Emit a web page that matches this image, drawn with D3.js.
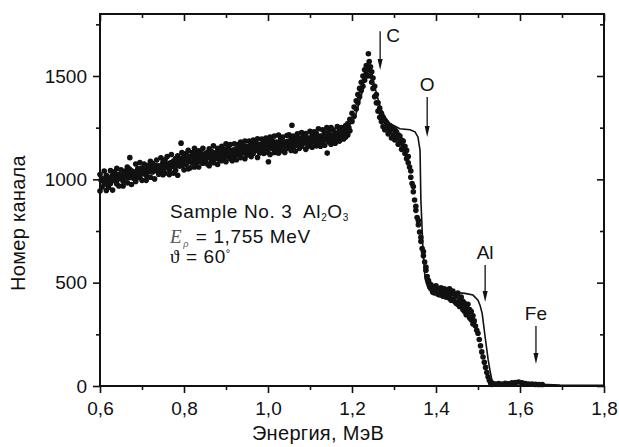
<!DOCTYPE html>
<html lang="ru">
<head>
<meta charset="UTF-8">
<title>Al2O3 spectrum</title>
<style>
  body { margin: 0; background: #fff; }
  svg text { font-family: "Liberation Sans", Arial, sans-serif; fill: #111; }
</style>
</head>
<body>
<svg width="619" height="447"></svg>
<script src="https://d3js.org/d3.v7.min.js"></script>
<script>
// measured points [energy MeV, counts]
var measured = [
  [0.600,1023],[0.600,943],[0.605,1000],[0.605,963],[0.610,1040],[0.610,982],[0.615,946],[0.615,1020],
  [0.620,1000],[0.620,962],[0.625,1042],[0.625,980],[0.630,1020],[0.630,948],[0.635,1036],[0.635,1000],
  [0.640,1053],[0.640,977],[0.645,968],[0.645,1023],[0.650,1012],[0.650,1046],[0.655,991],[0.655,968],
  [0.660,1040],[0.660,1025],[0.665,983],[0.665,1060],[0.670,1008],[0.670,1050],[0.671,1105],[0.675,975],
  [0.675,1041],[0.680,1030],[0.680,1005],[0.685,1074],[0.685,990],[0.690,1052],[0.690,1008],[0.695,1081],
  [0.695,1013],[0.700,1055],[0.700,995],[0.705,1040],[0.705,1074],[0.710,1018],[0.710,995],[0.715,1068],
  [0.715,1053],[0.720,1010],[0.720,1087],[0.725,1036],[0.725,1078],[0.730,1002],[0.730,1068],[0.735,1048],
  [0.735,1093],[0.740,1025],[0.740,1063],[0.745,1038],[0.745,1104],[0.750,1022],[0.750,1082],[0.755,1095],
  [0.755,1030],[0.760,1068],[0.760,1110],[0.765,1023],[0.765,1048],[0.770,1120],[0.770,1062],[0.775,1030],
  [0.775,1088],[0.780,1101],[0.780,1044],[0.785,1020],[0.785,1114],[0.790,1064],[0.790,1100],[0.793,1175],
  [0.795,1129],[0.795,1067],[0.800,1046],[0.800,1110],[0.805,1125],[0.805,1072],[0.810,1050],[0.810,1140],
  [0.815,1112],[0.815,1056],[0.820,1080],[0.820,1130],[0.825,1150],[0.825,1060],[0.830,1082],[0.830,1128],
  [0.835,1060],[0.835,1138],[0.840,1126],[0.840,1085],[0.845,1150],[0.845,1078],[0.850,1092],[0.850,1124],
  [0.855,1130],[0.855,1075],[0.860,1066],[0.860,1148],[0.865,1089],[0.865,1136],[0.870,1162],[0.870,1080],
  [0.875,1100],[0.875,1128],[0.880,1072],[0.880,1150],[0.885,1140],[0.885,1094],[0.890,1160],[0.890,1090],
  [0.895,1098],[0.895,1146],[0.900,1172],[0.900,1085],[0.905,1110],[0.905,1154],[0.910,1168],[0.910,1100],
  [0.915,1090],[0.915,1140],[0.920,1172],[0.920,1110],[0.925,1148],[0.925,1095],[0.930,1120],[0.930,1170],
  [0.935,1180],[0.935,1105],[0.940,1128],[0.940,1162],[0.945,1100],[0.945,1185],[0.950,1160],[0.950,1118],
  [0.955,1185],[0.955,1130],[0.960,1110],[0.960,1170],[0.965,1190],[0.965,1125],[0.970,1140],[0.970,1178],
  [0.975,1106],[0.975,1196],[0.980,1170],[0.980,1128],[0.985,1195],[0.985,1140],[0.990,1125],[0.990,1180],
  [0.995,1200],[0.995,1150],[1.000,1130],[1.000,1185],[1.001,1085],[1.005,1204],[1.005,1120],[1.010,1150],
  [1.010,1188],[1.015,1130],[1.015,1210],[1.020,1180],[1.020,1140],[1.025,1214],[1.025,1126],[1.030,1150],
  [1.030,1195],[1.035,1205],[1.035,1138],[1.040,1130],[1.040,1180],[1.045,1212],[1.045,1150],[1.050,1160],
  [1.050,1215],[1.055,1140],[1.055,1195],[1.057,1262],[1.060,1210],[1.060,1150],[1.065,1136],[1.065,1202],
  [1.070,1220],[1.070,1165],[1.075,1150],[1.075,1200],[1.080,1226],[1.080,1160],[1.085,1176],[1.085,1215],
  [1.090,1145],[1.090,1222],[1.095,1200],[1.095,1160],[1.100,1232],[1.100,1170],[1.105,1155],[1.105,1210],
  [1.110,1230],[1.110,1180],[1.115,1162],[1.115,1222],[1.120,1245],[1.120,1175],[1.125,1210],[1.125,1160],
  [1.130,1240],[1.130,1180],[1.135,1165],[1.135,1225],[1.140,1250],[1.140,1190],[1.141,1127],[1.145,1180],
  [1.145,1230],[1.150,1250],[1.150,1170],[1.155,1190],[1.155,1240],[1.160,1225],[1.160,1175],[1.165,1255],
  [1.165,1195],[1.170,1185],[1.170,1240],[1.175,1250],[1.175,1200],[1.180,1195],[1.180,1245],[1.185,1260],
  [1.185,1205],[1.190,1215],[1.190,1270],[1.195,1235],[1.195,1290],
  // middle of the band
  [0.6025,995],[0.6075,1002],[0.6125,978],[0.6175,1008],[0.6225,990],[0.6275,1012],[0.6325,995],[0.6375,1018],
  [0.6425,1000],[0.6475,1022],[0.6525,1004],[0.6575,1025],[0.6625,1008],[0.6675,1030],[0.6725,1012],[0.6775,1035],
  [0.6825,1018],[0.6875,1040],[0.6925,1022],[0.6975,1045],[0.7025,1028],[0.7075,1050],[0.7125,1032],[0.7175,1055],
  [0.7225,1038],[0.7275,1060],[0.7325,1042],[0.7375,1065],[0.7425,1048],[0.7475,1070],[0.7525,1052],[0.7575,1075],
  [0.7625,1058],[0.7675,1080],[0.7725,1062],[0.7775,1085],[0.7825,1068],[0.7875,1090],[0.7925,1075],[0.7975,1098],
  [0.8025,1080],[0.8075,1100],[0.8125,1085],[0.8175,1105],[0.8225,1088],[0.8275,1110],[0.8325,1092],[0.8375,1113],
  [0.8425,1096],[0.8475,1117],[0.8525,1100],[0.8575,1121],[0.8625,1104],[0.8675,1125],[0.8725,1108],[0.8775,1128],
  [0.8825,1112],[0.8875,1132],[0.8925,1115],[0.8975,1136],[0.9025,1119],[0.9075,1139],[0.9125,1123],[0.9175,1142],
  [0.9225,1126],[0.9275,1146],[0.9325,1130],[0.9375,1150],[0.9425,1133],[0.9475,1153],[0.9525,1137],[0.9575,1157],
  [0.9625,1140],[0.9675,1160],[0.9725,1144],[0.9775,1164],[0.9825,1147],[0.9875,1167],[0.9925,1150],[0.9975,1170],
  [1.0025,1152],[1.0075,1172],[1.0125,1155],[1.0175,1175],[1.0225,1158],[1.0275,1178],[1.0325,1161],[1.0375,1181],
  [1.0425,1164],[1.0475,1184],[1.0525,1167],[1.0575,1187],[1.0625,1170],[1.0675,1190],[1.0725,1173],[1.0775,1193],
  [1.0825,1176],[1.0875,1196],[1.0925,1179],[1.0975,1199],[1.1025,1182],[1.1075,1202],[1.1125,1185],[1.1175,1205],
  [1.1225,1188],[1.1275,1208],[1.1325,1191],[1.1375,1211],[1.1425,1194],[1.1475,1214],[1.1525,1197],[1.1575,1217],
  [1.1625,1200],[1.1675,1220],[1.1725,1205],[1.1775,1225],[1.1825,1215],[1.1875,1235],[1.1925,1250],
  // peak, oxygen edge, plateau and tail
  [1.200,1280],[1.200,1320],[1.205,1305],[1.205,1350],[1.210,1340],[1.210,1380],[1.214,1370],[1.214,1410],
  [1.218,1400],[1.218,1440],[1.222,1430],[1.222,1470],[1.226,1450],[1.226,1500],[1.230,1480],[1.230,1530],
  [1.234,1510],[1.234,1550],[1.237,1500],[1.239,1608],[1.241,1530],[1.241,1570],[1.244,1500],[1.244,1545],
  [1.247,1470],[1.247,1520],[1.250,1440],[1.250,1490],[1.254,1400],[1.254,1450],[1.258,1370],[1.258,1410],
  [1.262,1330],[1.262,1370],[1.266,1300],[1.266,1345],[1.270,1280],[1.270,1320],[1.274,1255],[1.274,1300],
  [1.278,1240],[1.278,1285],[1.282,1250],[1.282,1275],[1.286,1220],[1.286,1265],[1.290,1235],[1.290,1260],
  [1.294,1200],[1.294,1250],[1.298,1215],[1.298,1245],[1.302,1190],[1.302,1240],[1.306,1200],[1.306,1230],
  [1.310,1170],[1.310,1215],[1.314,1180],[1.314,1210],[1.318,1145],[1.318,1190],[1.322,1160],[1.322,1185],
  [1.326,1125],[1.326,1160],[1.330,1100],[1.330,1140],[1.334,1080],[1.334,1110],[1.337,1060],[1.340,1010],
  [1.340,1040],[1.343,980],[1.346,940],[1.346,965],[1.349,900],[1.352,850],[1.352,870],[1.355,815],
  [1.358,780],[1.358,800],[1.361,745],[1.364,700],[1.364,720],[1.367,665],[1.370,630],[1.370,650],
  [1.373,600],[1.376,560],[1.376,575],[1.379,530],[1.382,500],[1.382,510],[1.385,480],[1.385,495],
  [1.388,470],[1.388,490],[1.392,455],[1.392,480],[1.396,475],[1.396,450],[1.400,460],[1.400,485],
  [1.404,445],[1.404,470],[1.408,465],[1.408,440],[1.412,450],[1.412,475],[1.416,435],[1.416,460],
  [1.420,470],[1.420,445],[1.424,430],[1.424,455],[1.428,460],[1.428,440],[1.432,425],[1.432,470],
  [1.436,445],[1.436,415],[1.440,460],[1.440,420],[1.444,410],[1.444,445],[1.448,435],[1.448,400],
  [1.452,450],[1.452,395],[1.456,415],[1.456,385],[1.460,430],[1.460,390],[1.464,370],[1.464,410],
  [1.468,400],[1.468,360],[1.472,380],[1.472,345],[1.476,395],[1.476,350],[1.480,330],[1.480,370],
  [1.484,360],[1.484,320],[1.488,340],[1.488,300],[1.491,315],[1.494,290],[1.497,270],
  [1.500,255],[1.503,225],[1.506,195],[1.509,165],[1.512,140],[1.515,115],[1.518,90],[1.521,65],
  [1.524,45],[1.527,28],[1.530,15],[1.533,8],[1.537,10],[1.541,10],[1.549,12],[1.557,9],
  [1.565,13],[1.573,11],[1.581,15],[1.589,17],[1.597,19],[1.605,15],[1.613,12],[1.621,10],
  [1.629,9],[1.637,8],[1.645,7],[1.653,7]
]

// simulated spectrum
var simEnergy = [0.60, 0.79, 1.00, 1.148, 1.183, 1.207, 1.224, 1.233, 1.238, 1.243, 1.25, 1.267, 1.279, 1.29,
  1.314, 1.338, 1.35, 1.357, 1.362, 1.364, 1.369, 1.374, 1.381, 1.398, 1.433, 1.469, 1.488, 1.50, 1.505,
  1.51, 1.517, 1.524, 1.529, 1.533, 1.54, 1.576, 1.60, 1.636, 1.695, 1.80]
var simCounts = [985, 1090, 1160, 1200, 1230, 1300, 1420, 1530, 1565, 1540, 1480, 1350, 1300, 1270,
  1245, 1240, 1230, 1205, 1140, 900, 660, 520, 475, 462, 455, 448, 440, 415, 390,
  350, 237, 130, 70, 30, 12, 15, 20, 10, 5, 3]

// element edges
var elements = ['C', 'O', 'Al', 'Fe']
var edgeEnergy = [1.267, 1.379, 1.517, 1.638]
var arrowTop = [1717, 1398, 585, 290]
var arrowTip = [1529, 1205, 406, 106]

var xTicks = [0.6, 0.8, 1.0, 1.2, 1.4, 1.6, 1.8]
var xMinor = [0.7, 0.9, 1.1, 1.3, 1.5, 1.7]
var yTicks = [0, 500, 1000, 1500]
var yMinor = [250, 750, 1250, 1750]

var svg = d3.select('svg')
var m = { left: 100, right: 604, top: 14, bottom: 386 }

var x = d3.scaleLinear().domain([0.6, 1.8]).range([m.left, m.right])
var y = d3.scaleLinear().domain([0, 1800]).range([m.bottom, m.top])

var fmt = function(d) { return d3.format('.1f')(d).replace('.', ',') }

// minor ticks first, then major with labels
svg.append('g').attr('transform', 'translate(0,' + m.bottom + ')')
  .call(d3.axisBottom(x).tickValues(xMinor).tickSize(4).tickFormat(''))
svg.append('g').attr('transform', 'translate(0,' + m.bottom + ')')
  .call(d3.axisBottom(x).tickValues(xTicks).tickSize(7).tickPadding(9).tickFormat(fmt))
svg.append('g').attr('transform', 'translate(0,' + m.top + ')')
  .call(d3.axisBottom(x).tickValues(xMinor).tickSize(4).tickFormat(''))
svg.append('g').attr('transform', 'translate(0,' + m.top + ')')
  .call(d3.axisBottom(x).tickValues(xTicks).tickSize(7).tickFormat(''))

svg.append('g').attr('transform', 'translate(' + m.left + ',0)')
  .call(d3.axisLeft(y).tickValues(yMinor).tickSize(4).tickFormat(''))
svg.append('g').attr('transform', 'translate(' + m.left + ',0)')
  .call(d3.axisLeft(y).tickValues(yTicks).tickSize(7).tickPadding(6).tickFormat(d3.format('d')))
svg.append('g').attr('transform', 'translate(' + m.right + ',0)')
  .call(d3.axisLeft(y).tickValues(yMinor).tickSize(4).tickFormat(''))
svg.append('g').attr('transform', 'translate(' + m.right + ',0)')
  .call(d3.axisLeft(y).tickValues(yTicks).tickSize(7).tickFormat(''))

svg.selectAll('.domain').remove()
svg.selectAll('.tick line').attr('stroke', '#111').attr('stroke-width', 1.6)
svg.selectAll('.tick text').style('font-size', '19px').attr('fill', '#111')

// frame
svg.append('rect')
  .attr('x', m.left).attr('y', m.top)
  .attr('width', m.right - m.left).attr('height', m.bottom - m.top)
  .attr('fill', 'none').attr('stroke', '#111').attr('stroke-width', 2)

// simulation line (under the points)
var line = d3.line()
  .x(function(d, i) { return x(simEnergy[i]) })
  .y(function(d, i) { return y(simCounts[i]) })
svg.append('path')
  .attr('d', line(simEnergy))
  .attr('fill', 'none')
  .attr('stroke', '#111')
  .attr('stroke-width', 1.6)

// points
svg.append('g').selectAll('circle')
  .data(measured).enter().append('circle')
  .attr('cx', function(d) { return x(d[0]) })
  .attr('cy', function(d) { return y(d[1]) })
  .attr('r', 2.8)
  .attr('fill', '#111')

// arrows and element labels
var arrows = svg.append('g')
elements.forEach(function(el, i) {
  var px = x(edgeEnergy[i])
  arrows.append('line')
    .attr('x1', px).attr('x2', px)
    .attr('y1', y(arrowTop[i])).attr('y2', y(arrowTip[i]) - 6)
    .attr('stroke', '#111').attr('stroke-width', 1.3)
  var tip = y(arrowTip[i])
  arrows.append('path')
    .attr('d', 'M' + (px - 2.5) + ',' + (tip - 11) + 'L' + px + ',' + tip + 'L' + (px + 2.5) + ',' + (tip - 11) + 'Z')
    .attr('fill', '#111')
  var lab = arrows.append('text').text(el).style('font-size', '19px')
  if (el == 'C') {
    lab.attr('x', px + 6).attr('y', y(arrowTop[i]) + 11)
  } else {
    lab.attr('x', px).attr('y', y(arrowTop[i]) - 6).attr('text-anchor', 'middle')
  }
})

// sample info
var info = svg.append('g').style('font-size', '19px').style('letter-spacing', '0.6px')
var t1 = info.append('text').attr('x', 170).attr('y', 218).style('white-space', 'pre')
t1.append('tspan').text('Sample No. 3  Al')
t1.append('tspan').text('2').style('font-size', '10px').attr('dy', 3)
t1.append('tspan').text('O').attr('dy', -3)
t1.append('tspan').text('3').style('font-size', '10px').attr('dy', 3)

var t2 = info.append('text').attr('x', 170).attr('y', 243).style('white-space', 'pre')
t2.append('tspan').text('E').style('font-family', '"Liberation Serif", serif').style('font-style', 'italic').attr('fill', '#555')
t2.append('tspan').text('ρ').style('font-size', '9px').style('font-style', 'italic').attr('dy', 4).attr('dx', 1).attr('fill', '#555')
t2.append('tspan').text(' = 1,755 MeV').attr('dy', -4).attr('dx', 1)

var t3 = info.append('text').attr('x', 170).attr('y', 263).style('white-space', 'pre')
t3.append('tspan').text('ϑ').style('font-family', '"Liberation Serif", serif')
t3.append('tspan').text(' = 60')
t3.append('tspan').text('°').style('font-size', '11px').attr('dy', -6)

// axis titles
svg.append('text')
  .attr('x', 318).attr('y', 440)
  .attr('text-anchor', 'middle')
  .style('font-size', '20px')
  .style('letter-spacing', '0.3px')
  .text('Энергия, МэВ')

svg.append('text')
  .attr('transform', 'translate(25,223) rotate(-90)')
  .attr('text-anchor', 'middle')
  .style('font-size', '20px')
  .style('letter-spacing', '0.3px')
  .text('Номер канала')
</script>
</body>
</html>
